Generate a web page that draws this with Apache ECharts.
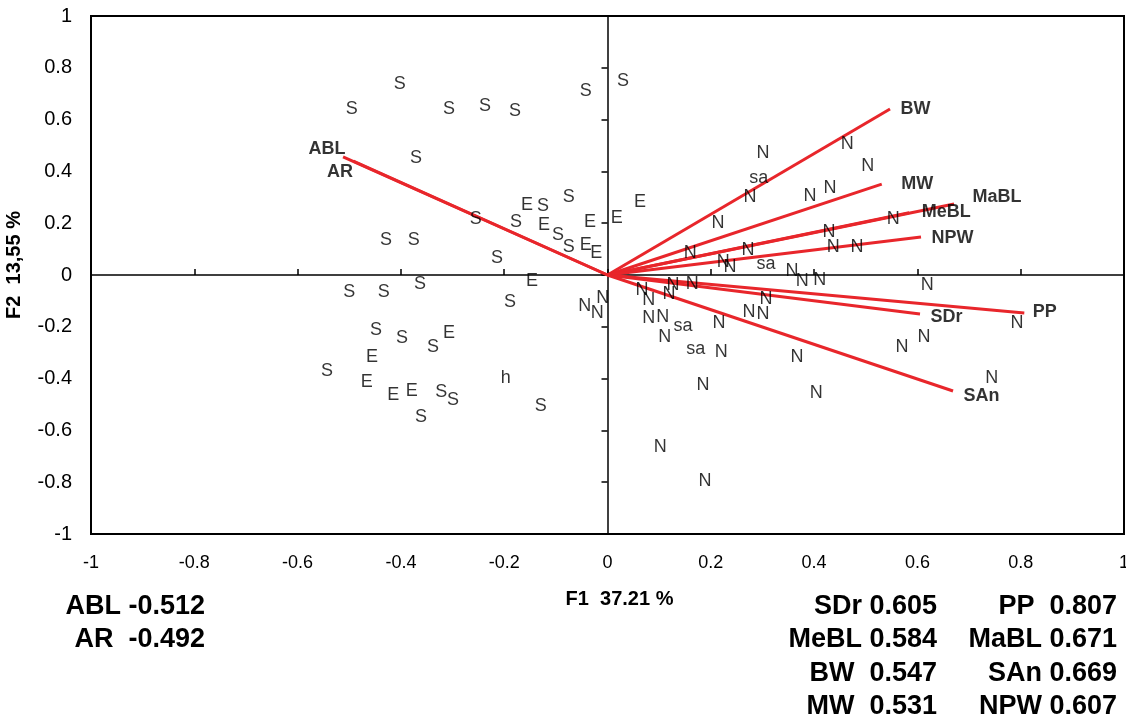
<!DOCTYPE html>
<html>
<head>
<meta charset="utf-8">
<title>PCA biplot F1 x F2</title>
<script src="https://cdn.jsdelivr.net/npm/echarts@6/dist/echarts.min.js"></script>
<style>
  html, body { margin: 0; padding: 0; background: #fff; }
  #chart { width: 1126px; height: 720px; }
</style>
</head>
<body>
<div id="chart"></div>
<script>
// observation scores (F1, F2), one list per group label
const sPts = [
  [-0.402, 0.737], [-0.495, 0.641], [-0.307, 0.641], [-0.237, 0.653], [-0.179, 0.633],
  [-0.042, 0.710], [0.030, 0.749], [-0.371, 0.452],
  [-0.125, 0.266], [-0.075, 0.301], [-0.255, 0.216], [-0.177, 0.205], [-0.096, 0.154],
  [-0.075, 0.108], [-0.429, 0.135], [-0.375, 0.135], [-0.214, 0.066],
  [-0.500, -0.066], [-0.433, -0.066], [-0.363, -0.035], [-0.189, -0.104],
  [-0.448, -0.212], [-0.398, -0.243], [-0.338, -0.278], [-0.543, -0.371],
  [-0.322, -0.452], [-0.299, -0.483], [-0.361, -0.548], [-0.129, -0.506]
]
const ePts = [
  [-0.156, 0.270], [-0.123, 0.193], [-0.034, 0.205], [0.018, 0.220], [0.063, 0.282],
  [-0.042, 0.116], [-0.022, 0.085], [-0.146, -0.023],
  [-0.307, -0.224], [-0.456, -0.317], [-0.466, -0.413], [-0.415, -0.463], [-0.379, -0.448]
]
const hPts = [[-0.197, -0.398]]
const saPts = [[0.293, 0.375], [0.307, 0.042], [0.146, -0.197], [0.171, -0.286]]
const nPts = [
  [-0.044, -0.120], [-0.020, -0.147], [-0.009, -0.089],
  [0.301, 0.471], [0.276, 0.301], [0.464, 0.506], [0.504, 0.421], [0.392, 0.305], [0.431, 0.336],
  [0.214, 0.201], [0.160, 0.085], [0.272, 0.097], [0.224, 0.050], [0.237, 0.031],
  [0.429, 0.166], [0.437, 0.108], [0.483, 0.108], [0.357, 0.015], [0.377, -0.023], [0.411, -0.019],
  [0.553, 0.216],
  [0.619, -0.039], [0.793, -0.185], [0.613, -0.239], [0.570, -0.278], [0.744, -0.398],
  [0.067, -0.058], [0.080, -0.097], [0.127, -0.039], [0.119, -0.073], [0.164, -0.035],
  [0.080, -0.166], [0.107, -0.162], [0.111, -0.239], [0.216, -0.185], [0.220, -0.297],
  [0.307, -0.093], [0.274, -0.143], [0.301, -0.151], [0.367, -0.317], [0.404, -0.456],
  [0.185, -0.425], [0.102, -0.664], [0.189, -0.795]
]

// variable loadings (vectors)
const varNames = ['ABL', 'AR', 'BW', 'MW', 'MeBL', 'MaBL', 'NPW', 'PP', 'SDr', 'SAn']
const varF1 = [-0.512, -0.492, 0.547, 0.531, 0.584, 0.671, 0.607, 0.807, 0.605, 0.669]
const varF2 = [0.456, 0.440, 0.641, 0.351, 0.240, 0.274, 0.147, -0.147, -0.151, -0.448]

// loading table under the plot
const tableLeft = ['ABL', 'AR']
const tableCol1 = ['SDr', 'MeBL', 'BW', 'MW']
const tableCol2 = ['PP', 'MaBL', 'SAn', 'NPW']

// both axes: -1 .. 1, a tick every 0.2
const axisMin = -1
const axisMax = 1
const axisStep = 0.2

const FONT = "'Liberation Sans', Arial, sans-serif"
const RED = '#e8262b'

// label placement of the vector names
const varLabelPlace = {
  ABL: { position: 'left', distance: 0, offset: [3, -8] },
  AR: { position: 'left', distance: 0, offset: [0, 11] },
  BW: { position: 'right', distance: 10, offset: [0, 0] },
  MW: { position: 'right', distance: 19, offset: [0, 0] },
  MeBL: { position: 'right', distance: 12, offset: [0, -1] },
  MaBL: { position: 'right', distance: 18, offset: [0, -7] },
  NPW: { position: 'right', distance: 10, offset: [0, 1] },
  PP: { position: 'right', distance: 8, offset: [0, -1] },
  SDr: { position: 'right', distance: 10, offset: [0, 3] },
  SAn: { position: 'right', distance: 10, offset: [0, 5] }
}

function groupSeries(name, pts) {
  return {
    name: name,
    type: 'scatter',
    data: pts,
    symbolSize: 1,
    itemStyle: { color: 'rgba(0,0,0,0)' },
    z: 5,
    label: {
      show: true,
      position: 'inside',
      formatter: name,
      color: '#000',
      fontFamily: FONT,
      fontSize: 18
    },
    emphasis: { disabled: true }
  }
}

function tableText(name) {
  const i = varNames.indexOf(name)
  return name + (name.length < 3 ? '  ' : ' ') + varF1[i].toFixed(3)
}

const rowY = [607, 640, 674, 707]
const graphics = []
const addColumn = (names, x) => names.forEach((n, i) => {
  graphics.push({
    type: 'text',
    style: { text: tableText(n), x: x, y: rowY[i], textAlign: 'right', textVerticalAlign: 'middle', font: 'bold 27px ' + FONT, fill: '#000' }
  })
})
addColumn(tableLeft, 205)
addColumn(tableCol1, 937)
addColumn(tableCol2, 1117)

const fmtTick = v => String(Math.round(v * 10) / 10)

const chart = echarts.init(document.getElementById('chart'))
chart.setOption({
  animation: false,
  backgroundColor: '#fff',
  grid: {
    left: 91, right: 2, top: 16, bottom: 186,
    outerBoundsMode: 'none',
    containLabel: false,
    show: true, borderColor: '#000', borderWidth: 2, backgroundColor: 'transparent'
  },
  xAxis: [
    {
      type: 'value', min: axisMin, max: axisMax, interval: axisStep, position: 'bottom',
      axisLine: { show: false, onZero: false },
      axisTick: { show: false },
      splitLine: { show: false },
      axisLabel: { margin: 20, color: '#000', fontFamily: FONT, fontSize: 18, formatter: fmtTick },
      name: 'F1  37.21 %', nameLocation: 'middle', nameGap: 55,
      nameTextStyle: { color: '#000', fontFamily: FONT, fontSize: 20, fontWeight: 'bold', padding: [0, 0, 0, 24] }
    },
    {
      type: 'value', min: axisMin, max: axisMax, interval: axisStep, position: 'bottom',
      axisLine: { show: true, onZero: true, onZeroAxisIndex: 0, lineStyle: { color: '#000', width: 1.5 } },
      axisTick: { show: true, inside: true, length: 6, lineStyle: { color: '#000', width: 1.5 } },
      splitLine: { show: false },
      axisLabel: { show: false }
    }
  ],
  yAxis: [
    {
      type: 'value', min: axisMin, max: axisMax, interval: axisStep, position: 'left',
      axisLine: { show: false, onZero: false },
      axisTick: { show: false },
      splitLine: { show: false },
      axisLabel: { margin: 19, color: '#000', fontFamily: FONT, fontSize: 20, formatter: fmtTick },
      name: 'F2  13,55 %', nameLocation: 'middle', nameGap: 67,
      nameTextStyle: { color: '#000', fontFamily: FONT, fontSize: 20, fontWeight: 'bold', padding: [0, 0, 0, 20] }
    },
    {
      type: 'value', min: axisMin, max: axisMax, interval: axisStep, position: 'left',
      axisLine: { show: true, onZero: true, onZeroAxisIndex: 0, lineStyle: { color: '#000', width: 1.5 } },
      axisTick: { show: true, inside: false, length: 6, lineStyle: { color: '#000', width: 1.5 } },
      splitLine: { show: false },
      axisLabel: { show: false }
    }
  ],
  series: [
    {
      name: 'vectors',
      type: 'lines',
      coordinateSystem: 'cartesian2d',
      z: 3,
      lineStyle: { color: RED, width: 3, opacity: 1 },
      data: varNames.map((n, i) => ({ coords: [[0, 0], [varF1[i], varF2[i]]] }))
    },
    {
      name: 'variables',
      type: 'scatter',
      symbolSize: 1,
      itemStyle: { color: 'rgba(0,0,0,0)' },
      z: 6,
      emphasis: { disabled: true },
      data: varNames.map((n, i) => ({
        value: [varF1[i], varF2[i]],
        name: n,
        label: Object.assign({
          show: true,
          formatter: n,
          color: '#000',
          fontFamily: FONT,
          fontSize: 18,
          fontWeight: 'bold'
        }, varLabelPlace[n])
      }))
    },
    groupSeries('S', sPts),
    groupSeries('E', ePts),
    groupSeries('h', hPts),
    groupSeries('sa', saPts),
    groupSeries('N', nPts)
  ],
  graphic: graphics
})
</script>
</body>
</html>
